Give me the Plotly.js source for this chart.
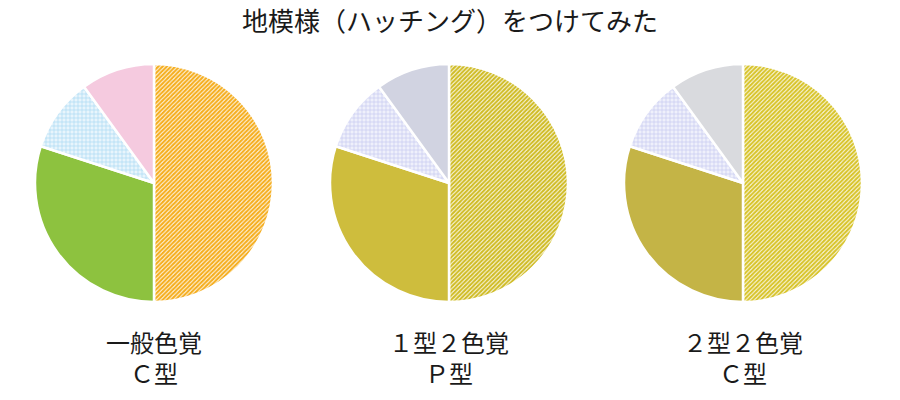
<!DOCTYPE html>
<html>
<head>
<meta charset="utf-8">
<script src="https://cdn.plot.ly/plotly-3.0.1.min.js"></script>
<style>html,body{margin:0;padding:0;background:#fff;}#chart{width:900px;height:400px;}</style>
</head>
<body>
<div id="chart"></div>
<script>
const sliceValues = [50, 30, 10, 10];
const chartTitle = "地模様（ハッチング）をつけてみた";
const pieLabels = ["一般色覚<br>Ｃ型", "１型２色覚<br>Ｐ型", "２型２色覚<br>Ｃ型"];
const hatchColors = ["#f5ae1f", "#d0bc26", "#d8c42b"];
const solidColors = ["#8dc23f", "#cebd3d", "#c4b446"];
const gridColors = ["#a9d9f2", "#c3c8f0", "#c3c8f0"];
const gridBg = ["#e8f5fc", "#eff0fb", "#eff0fb"];
const lastColors = ["#f5cadf", "#d1d3e1", "#d9dade"];

const font = "'Noto Sans CJK JP', 'Noto Sans', sans-serif";
const domains = [[35/900, 273/900], [330/900, 568/900], [624/900, 862/900]];
const traces = pieLabels.map((lab, i) => ({
  type: 'pie',
  values: sliceValues,
  sort: false,
  direction: 'clockwise',
  rotation: 0,
  textinfo: 'none',
  hoverinfo: 'none',
  domain: {x: domains[i], y: [1 - 302/400, 1 - 64/400]},
  marker: {
    colors: [hatchColors[i], solidColors[i], gridColors[i], lastColors[i]],
    line: {color: '#ffffff', width: 2.5},
    pattern: {
      shape: ['/', '', '+', ''],
      fgcolor: [hatchColors[i], solidColors[i], gridColors[i], lastColors[i]],
      bgcolor: ['#ffffff', solidColors[i], gridBg[i], lastColors[i]],
      fillmode: 'replace',
      size: [3, 8, 4, 8],
      solidity: [0.72, 0.3, 0.3, 0.3]
    }
  }
}));

const annotations = pieLabels.map((lab, i) => ({
  text: lab,
  x: (domains[i][0] + domains[i][1]) / 2,
  y: 1 - 357/400,
  xref: 'paper', yref: 'paper',
  xanchor: 'center', yanchor: 'middle',
  showarrow: false,
  align: 'center',
  font: {family: font, size: 24, color: '#1a1a1a'}
}));

const layout = {
  width: 900, height: 400,
  margin: {l: 0, r: 0, t: 0, b: 0},
  paper_bgcolor: '#fff',
  showlegend: false,
  title: {text: chartTitle, x: 0.5, xanchor: 'center', y: 1 - 22/400, yanchor: 'middle',
          font: {family: font, size: 26, color: '#1a1a1a'}},
  annotations: annotations
};
Plotly.newPlot('chart', traces, layout, {staticPlot: true});
</script>
</body>
</html>
